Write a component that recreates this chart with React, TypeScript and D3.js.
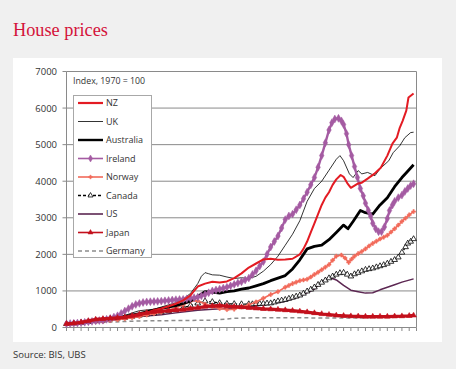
import React from 'react';
import * as d3 from 'd3';

type P = [number, number];

const Y_TICKS = [0, 1000, 2000, 3000, 4000, 5000, 6000, 7000];
const X_TICK_YEARS = d3.range(1970, 2019);

const NZ: P[] = [[1970,100],[1971,115],[1972,135],[1973,175],[1974,215],[1975,235],[1976,250],[1977,265],[1978,280],[1979,300],[1980,330],[1981,400],[1982,470],[1983,520],[1984,580],[1985,650],[1986,740],[1987,880],[1987.5,1000],[1988,1120],[1989,1200],[1990,1250],[1991,1230],[1992,1260],[1993,1350],[1994,1480],[1995,1640],[1996,1750],[1997,1860],[1998,1880],[1999,1850],[2000,1860],[2001,1880],[2002,2000],[2002.5,2150],[2003,2350],[2003.5,2600],[2004,2850],[2004.5,3100],[2005,3350],[2005.5,3550],[2006,3700],[2006.5,3900],[2007,4050],[2007.6,4170],[2008,4120],[2008.5,3950],[2009,3820],[2009.5,3880],[2010,3940],[2010.5,3960],[2011.3,4070],[2012.2,4200],[2013.1,4370],[2014,4700],[2014.7,5030],[2015.3,5190],[2015.7,5460],[2016.1,5650],[2016.6,5930],[2016.9,6290],[2017.6,6400]];
const UK: P[] = [[1970,100],[1971,110],[1972,150],[1973,210],[1974,240],[1975,250],[1976,265],[1977,280],[1978,330],[1979,400],[1980,460],[1981,480],[1982,500],[1983,560],[1984,620],[1985,680],[1986,780],[1987,930],[1988,1200],[1988.5,1400],[1989,1500],[1989.5,1470],[1990,1440],[1991,1430],[1992,1380],[1993,1340],[1994,1360],[1995,1340],[1996,1400],[1997,1540],[1998,1720],[1999,1950],[2000,2250],[2001,2550],[2002,2920],[2003,3450],[2004,3800],[2005,4000],[2006,4300],[2007,4600],[2007.5,4700],[2008,4560],[2008.8,4200],[2009.3,4100],[2010,4290],[2010.5,4200],[2011.3,4240],[2012.3,4150],[2013,4340],[2014.2,4560],[2014.8,4780],[2015.7,4970],[2016.4,5190],[2017.2,5330],[2017.6,5340]];
const AUSTRALIA: P[] = [[1970,100],[1972,130],[1974,180],[1975,200],[1977,260],[1980,380],[1983,520],[1985,600],[1987,720],[1988,850],[1989,980],[1990,970],[1991,940],[1992,980],[1993,1000],[1994,1050],[1995,1080],[1996,1140],[1997,1200],[1998,1280],[1999,1350],[2000,1420],[2001,1600],[2002,1850],[2003,2150],[2004,2220],[2005,2250],[2006,2400],[2007,2600],[2008,2800],[2008.6,2700],[2009.3,2900],[2010.3,3200],[2011,3140],[2012,3100],[2013,3350],[2014,3550],[2015,3850],[2016,4100],[2016.7,4250],[2017.6,4450]];
const IRELAND: P[] = [[1970,100],[1970.5,108],[1971,115],[1971.5,122],[1972,130],[1972.5,142],[1973,155],[1973.5,168],[1974,180],[1974.5,190],[1975,200],[1975.5,225],[1976,250],[1976.5,285],[1977,320],[1977.5,385],[1978,450],[1978.5,515],[1979,580],[1979.5,630],[1980,660],[1980.5,685],[1981,700],[1981.5,705],[1982,710],[1982.5,715],[1983,720],[1983.5,730],[1984,740],[1984.5,750],[1985,760],[1985.5,765],[1986,770],[1986.5,785],[1987,800],[1987.5,815],[1988,830],[1988.5,865],[1989,900],[1989.5,950],[1990,1000],[1990.5,1025],[1991,1050],[1991.5,1075],[1992,1100],[1992.5,1140],[1993,1180],[1993.5,1215],[1994,1250],[1994.5,1300],[1995,1350],[1995.5,1450],[1996,1550],[1996.5,1680],[1997,1800],[1997.5,2000],[1998,2200],[1998.5,2350],[1999,2500],[1999.5,2720],[2000,2950],[2000.5,3050],[2001,3100],[2001.5,3220],[2002,3350],[2002.5,3520],[2003,3700],[2003.5,3900],[2004,4100],[2004.5,4380],[2005,4700],[2005.5,5050],[2006,5400],[2006.4,5600],[2006.8,5700],[2007.3,5720],[2007.7,5650],[2008,5550],[2008.4,5300],[2008.7,5000],[2009.1,4700],[2009.5,4400],[2009.9,4100],[2010.3,3800],[2010.7,3600],[2011,3400],[2011.4,3200],[2011.7,3050],[2012,2850],[2012.4,2700],[2012.8,2620],[2013.2,2620],[2013.6,2750],[2014,2980],[2014.3,3200],[2014.7,3350],[2015,3450],[2015.5,3550],[2016,3620],[2016.4,3720],[2016.8,3800],[2017.2,3880],[2017.6,3930]];
const NORWAY: P[] = [[1970,100],[1971,115],[1972,130],[1973,145],[1974,160],[1975,170],[1976,190],[1977,215],[1978,240],[1979,270],[1980,300],[1981,340],[1982,380],[1983,420],[1984,475],[1985,530],[1986,620],[1987,720],[1988,730],[1989,640],[1990,570],[1991,520],[1992,490],[1993,500],[1994,560],[1995,620],[1996,700],[1997,800],[1998,900],[1999,980],[2000,1100],[2000.5,1150],[2001,1200],[2001.5,1240],[2002,1280],[2002.5,1300],[2003,1320],[2003.5,1380],[2004,1450],[2004.5,1510],[2005,1580],[2005.5,1650],[2006,1720],[2006.5,1840],[2007,1950],[2007.7,1980],[2008.2,1900],[2008.7,1780],[2009.1,1870],[2009.5,1950],[2010,2020],[2010.5,2080],[2011,2150],[2011.5,2230],[2012,2300],[2012.5,2360],[2013,2420],[2013.5,2470],[2014,2520],[2014.5,2610],[2015,2700],[2015.5,2800],[2016,2900],[2016.5,2990],[2017,3080],[2017.6,3170]];
const CANADA: P[] = [[1970,100],[1971,115],[1972,130],[1973,155],[1974,180],[1975,200],[1976,230],[1977,250],[1978,270],[1979,300],[1980,330],[1981,360],[1982,390],[1983,420],[1984,450],[1985,480],[1986,540],[1987,600],[1988,660],[1989,720],[1990,700],[1991,670],[1992,650],[1993,645],[1994,640],[1995,640],[1995.5,640],[1996,645],[1996.5,650],[1997,655],[1997.5,660],[1998,665],[1998.5,690],[1999,720],[1999.5,740],[2000,760],[2000.5,790],[2001,820],[2001.5,850],[2002,880],[2002.5,930],[2003,990],[2003.5,1040],[2004,1100],[2004.5,1170],[2005,1230],[2005.5,1290],[2006,1350],[2006.5,1400],[2007,1450],[2007.5,1490],[2008,1500],[2008.5,1450],[2009,1400],[2009.5,1460],[2010,1500],[2010.5,1540],[2011,1580],[2011.5,1600],[2012,1620],[2012.5,1650],[2013,1680],[2013.5,1710],[2014,1750],[2014.5,1800],[2015,1850],[2015.5,1920],[2016,2050],[2016.5,2200],[2016.8,2300],[2017.2,2350],[2017.6,2420]];
const US: P[] = [[1970,100],[1972,120],[1975,170],[1978,240],[1980,300],[1983,350],[1985,400],[1988,470],[1990,500],[1993,530],[1995,560],[1998,640],[2000,720],[2002,850],[2004,1050],[2005,1250],[2006,1370],[2007,1300],[2008,1150],[2009,1020],[2010,980],[2011,940],[2012,950],[2013,1030],[2014,1100],[2015,1170],[2016,1240],[2017.6,1330]];
const JAPAN: P[] = [[1970,100],[1971,115],[1972,140],[1973,180],[1974,220],[1975,235],[1976,250],[1977,265],[1978,280],[1979,320],[1980,360],[1981,400],[1982,430],[1983,445],[1984,460],[1985,475],[1986,490],[1987,515],[1988,540],[1989,570],[1990,590],[1991,600],[1992,585],[1993,570],[1994,555],[1995,540],[1996,525],[1997,510],[1998,500],[1999,490],[2000,475],[2001,460],[2002,440],[2003,420],[2004,395],[2005,370],[2006,350],[2007,330],[2008,320],[2009,310],[2010,305],[2011,300],[2012,300],[2013,300],[2014,300],[2015,305],[2016,310],[2017,320],[2017.6,330]];
const GERMANY: P[] = [[1970,100],[1975,140],[1980,180],[1985,190],[1990,200],[1993,250],[1996,270],[2000,270],[2005,260],[2010,260],[2013,280],[2015,300],[2017.6,330]];

type Series = {
  name: string; data: P[]; color: string; width: number; dash?: string;
  marker?: 'diamond' | 'triangle' | 'triangleOpen' | 'cross'; mSize?: number; legendWidth?: number;
};

const SERIES: Series[] = [
  { name: 'NZ', data: NZ, color: '#e31b23', width: 2, legendWidth: 2.2 },
  { name: 'UK', data: UK, color: '#000000', width: 0.8 },
  { name: 'Australia', data: AUSTRALIA, color: '#000000', width: 2.8, legendWidth: 2.4 },
  { name: 'Ireland', data: IRELAND, color: '#a45ba2', width: 2.4, marker: 'diamond', mSize: 18, legendWidth: 1.6 },
  { name: 'Norway', data: NORWAY, color: '#f26b5b', width: 1.6, marker: 'cross', mSize: 9, legendWidth: 1.6 },
  { name: 'Canada', data: CANADA, color: '#000000', width: 1.2, dash: '3,2', marker: 'triangleOpen', mSize: 14, legendWidth: 1.4 },
  { name: 'US', data: US, color: '#5c2752', width: 1.5, legendWidth: 1.6 },
  { name: 'Japan', data: JAPAN, color: '#c3101c', width: 3.2, marker: 'triangle', mSize: 14, legendWidth: 1.6 },
  { name: 'Germany', data: GERMANY, color: '#8c8c8c', width: 1.5, dash: '4,3', legendWidth: 1.4 },
];
const DRAW_ORDER = ['Germany', 'US', 'Canada', 'Norway', 'Australia', 'UK', 'Ireland', 'NZ', 'Japan'];

const W = 456, H = 369;
const x = d3.scaleLinear().domain([1970, 2018]).range([66.5, 416.5]);
const y = d3.scaleLinear().domain([0, 7000]).range([327.5, 71.5]);
const line = d3.line<P>().x(d => x(d[0])).y(d => y(d[1]));
const FONT = "'Open Sans', sans-serif";

function symbolPath(m: string, size: number) {
  const t = m === 'diamond' ? d3.symbolDiamond : m === 'cross' ? d3.symbolCross : d3.symbolTriangle;
  return d3.symbol().type(t).size(size)()!;
}

function Marker({ s, cx, cy, scale = 1 }: { s: Series; cx: number; cy: number; scale?: number }) {
  if (!s.marker) return null;
  const d = symbolPath(s.marker, (s.mSize || 12) * scale);
  const open = s.marker === 'triangleOpen';
  return <path d={d} transform={`translate(${cx},${cy})`} fill={open ? '#fff' : s.color}
    stroke={s.color} strokeWidth={open ? 0.8 : 0.5} />;
}

export default function App() {
  const legendY0 = 103, legendStep = 18.5;
  return (
    <svg width={W} height={H} style={{ position: 'absolute', left: 0, top: 0 }}>
      <rect x={0} y={0} width={W} height={H} fill="#f0f0f0" />
      <rect x={13} y={58} width={429} height={284} fill="#ffffff" />
      <text x={13} y={36} fill="#d4123a" fontFamily="'Liberation Serif', serif" fontSize={18.3}>House prices</text>
      <text x={13} y={358} fill="#333" fontFamily={FONT} fontSize={9.5}>Source: BIS, UBS</text>

      {Y_TICKS.map(v => (
        <g key={v}>
          <line x1={x(1970)} x2={x(2018)} y1={y(v)} y2={y(v)} stroke="#8a8a8a" strokeWidth={1} />
          <line x1={x(1970) - 4} x2={x(1970)} y1={y(v)} y2={y(v)} stroke="#8a8a8a" strokeWidth={1} />
          <text x={57} y={y(v) + 3.5} textAnchor="end" fontFamily={FONT} fontSize={9.5} fill="#333">{v}</text>
        </g>
      ))}
      <line x1={x(1970)} x2={x(1970)} y1={y(7000)} y2={y(0)} stroke="#8a8a8a" />
      <line x1={x(2018)} x2={x(2018)} y1={y(7000)} y2={y(0)} stroke="#8a8a8a" />
      {X_TICK_YEARS.map(yr => (
        <line key={yr} x1={x(yr)} x2={x(yr)} y1={y(0)} y2={y(0) + 3.5} stroke="#8a8a8a" />
      ))}

      {DRAW_ORDER.map(n => {
        const s = SERIES.find(q => q.name === n)!;
        return (
          <g key={n}>
            <path d={line(s.data)!} fill="none" stroke={s.color} strokeWidth={s.width}
              strokeDasharray={s.dash} strokeLinejoin="round" />
            {s.marker && s.data.map((p, i) => <Marker key={i} s={s} cx={x(p[0])} cy={y(p[1])} />)}
          </g>
        );
      })}

      <text x={73} y={84} fontFamily={FONT} fontSize={8.8} fill="#333">Index, 1970 = 100</text>
      <rect x={73.5} y={95.5} width={78} height={162} fill="#fff" stroke="#a8a8a8" />
      {SERIES.map((s, i) => {
        const ly = legendY0 + i * legendStep;
        return (
          <g key={s.name}>
            <line x1={78} x2={103} y1={ly} y2={ly} stroke={s.color} strokeWidth={s.legendWidth ?? s.width} strokeDasharray={s.dash} />
            <Marker s={s} cx={90.5} cy={ly} scale={0.8} />
            <text x={106} y={ly + 3.2} fontFamily={FONT} fontSize={9} fill="#333">{s.name}</text>
          </g>
        );
      })}
    </svg>
  );
}
